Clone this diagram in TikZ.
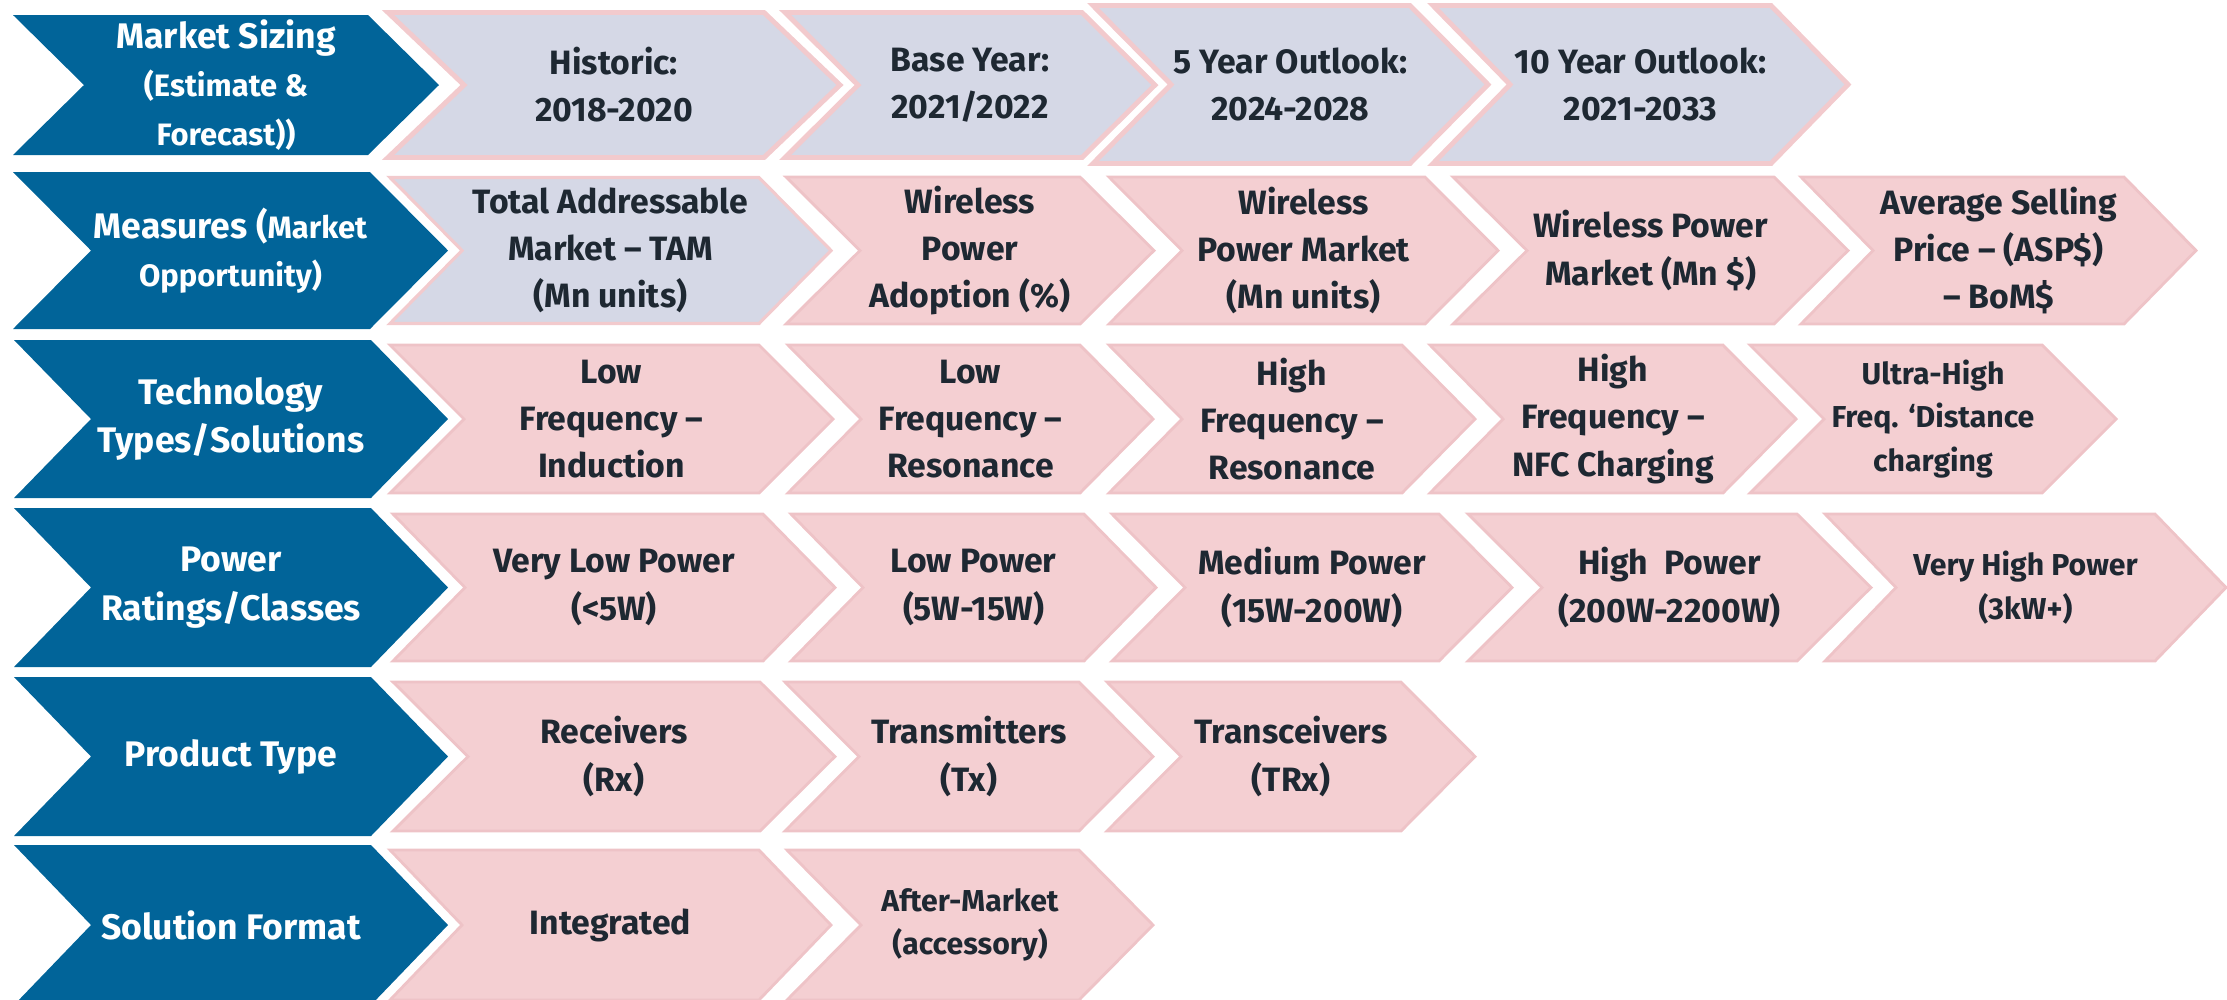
\documentclass[tikz,border=0pt]{standalone}
\usepackage{fontspec}
\setmainfont{Fira Sans}

\definecolor{chevblue}{RGB}{1,100,153}
\definecolor{lavfill}{RGB}{213,216,230}
\definecolor{lavedge}{RGB}{242,202,205}
\definecolor{pinkfill}{RGB}{244,207,210}
\definecolor{pinkedge}{RGB}{238,195,199}
\definecolor{txtdark}{RGB}{30,40,50}

\newcommand\mainf{\fontsize{9.6}{13.4}\selectfont}
\newcommand\smf{\fontsize{8.6}{12.4}\selectfont}
\newcommand\headf{\fontsize{10.1}{13.8}\selectfont}
\newcommand\headsmf{\fontsize{8.8}{12.8}\selectfont}

% chevron: style prefix, name, left x, top-right x, tip x, top y, bottom y, text
\newcommand\chev[8]{%
  \pgfmathsetmacro\cN{#3+#5-#4}%
  \pgfmathsetmacro\cM{(#6+#7)/2}%
  \pgfmathsetmacro\cX{(\cN+#4)/2}%
  \path[#1shape] (#3,#6) -- (#4,#6) -- (#5,\cM) -- (#4,#7) -- (#3,#7) -- (\cN,\cM) -- cycle;
  \node[#1text] (#2) at (\cX,\cM) {#8};%
}

\begin{document}
\begin{tikzpicture}[x=0.01cm,y=-0.01cm,
  blueshape/.style={fill=chevblue},
  bluetext/.style={text=white,font=\headf\bfseries,align=center,inner sep=0pt},
  lavshape/.style={fill=lavfill,draw=lavedge,line width=1.4pt,line join=miter},
  lavtext/.style={text=txtdark,font=\mainf\bfseries,align=center,inner sep=0pt},
  lavthinshape/.style={fill=lavfill,draw=lavedge,line width=0.9pt,line join=miter},
  lavthintext/.style={lavtext},
  pinkshape/.style={fill=pinkfill,draw=pinkedge,line width=0.8pt,line join=miter},
  pinktext/.style={lavtext},
  pinksmallshape/.style={pinkshape},
  pinksmalltext/.style={lavtext,font=\smf\bfseries}]
\useasboundingbox (0,0) rectangle (2227,999);
\clip (0,0) rectangle (2227,999);

% Row 1: market sizing
\chev{blue}{ms}{13}{368}{439}{15}{155}{Market Sizing\\{\headsmf (Estimate \&}\\{\headsmf Forecast))}}
\chev{lav}{hist}{388}{764}{840}{12.5}{157.5}{Historic:\\2018-2020}
\chev{lav}{base}{785}{1082}{1155}{12.5}{157.5}{Base Year:\\2021/2022}
\chev{lav}{five}{1093}{1410}{1488}{5.5}{163.5}{5 Year Outlook:\\2024-2028}
\chev{lav}{ten}{1433}{1771}{1848}{5.5}{163.5}{10 Year Outlook:\\2021-2033}

% Row 2: measures
\chev{blue}{meas}{13}{370}{448}{172}{329}{Measures ({\headsmf Market}\\{\headsmf Opportunity)}}
\chev{lavthin}{tam}{390}{759}{831}{177.5}{323.5}{Total Addressable\\Market – TAM\\(Mn units)}
\chev{pink}{adopt}{786}{1080}{1154}{177}{324}{Wireless\\Power\\Adoption (\%)}
\chev{pink}{wpmu}{1109}{1425}{1498}{177}{324}{Wireless\\Power Market\\(Mn units)}
\chev{pink}{wpmd}{1453}{1774}{1848}{177}{324}{Wireless Power\\Market (Mn \$)}
\chev{pink}{asp}{1801}{2124}{2196}{177}{324}{Average Selling\\Price – (ASP\$)\\– BoM\$}

% Row 3: technology
\chev{blue}{tech}{14}{371}{448}{340}{498}{Technology\\Types/Solutions}
\chev{pink}{lfi}{390}{759}{833}{345}{493}{Low\\Frequency –\\Induction}
\chev{pink}{lfr}{788}{1080}{1153}{345}{493}{Low\\Frequency –\\Resonance}
\chev{pink}{hfr}{1109}{1402}{1475}{345}{493}{High\\Frequency –\\Resonance}
\chev{pink}{hfn}{1430}{1723}{1796}{345}{493}{High\\Frequency –\\NFC Charging}
\chev{pinksmall}{uhf}{1750}{2042}{2116}{345}{493}{Ultra-High\\Freq. ‘Distance\\charging}

% Row 4: power ratings
\chev{blue}{pow}{14}{371}{448}{508}{667}{Power\\Ratings/Classes}
\chev{pink}{vlp}{393}{763}{835}{514}{661}{Very Low Power\\(<5W)}
\chev{pink}{lp}{791}{1084}{1156}{514}{661}{Low Power\\(5W-15W)}
\chev{pink}{mp}{1112}{1439}{1512}{514}{661}{Medium Power\\(15W-200W)}
\chev{pink}{hp}{1468}{1797}{1871}{514}{661}{High\ \ Power\\(200W-2200W)}
\chev{pinksmall}{vhp}{1825}{2155}{2226}{514}{661}{Very High Power\\(3kW+)}

% Row 5: product type
\chev{blue}{prod}{14}{371}{448}{677}{836}{Product Type}
\chev{pink}{rx}{393}{760}{835}{682}{831}{Receivers\\(Rx)}
\chev{pink}{tx}{785}{1079}{1153}{682}{831}{Transmitters\\(Tx)}
\chev{pink}{trx}{1107}{1401}{1475}{682}{831}{Transceivers\\(TRx)}

% Row 6: solution format
\chev{blue}{fmt}{14}{371}{448}{845}{1005}{Solution Format}
\chev{pink}{integ}{390}{759}{831}{850}{1000}{Integrated}
\chev{pinksmall}{after}{787}{1079}{1153}{850}{1000}{After-Market\\(accessory)}
\end{tikzpicture}
\end{document}
